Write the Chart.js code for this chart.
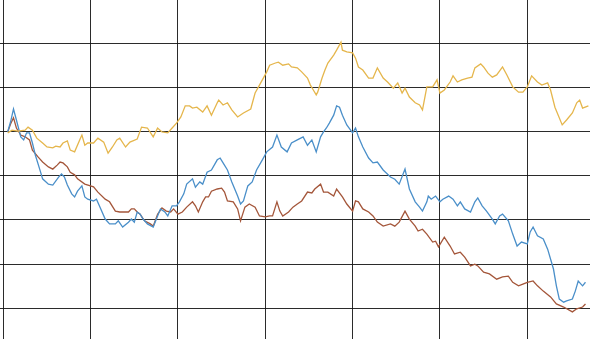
<!DOCTYPE html>
<html>
<head>
<meta charset="utf-8">
<script src="https://cdn.jsdelivr.net/npm/chart.js@4.4.0/dist/chart.umd.min.js"></script>
<style>
  html, body { margin: 0; padding: 0; background: #fff; }
  canvas { display: block; }
</style>
</head>
<body>
<canvas id="ctx_chart" width="590" height="339"></canvas>
<script>
// grid ticks (no labels shown in the picture)
const xTicks = [0, 60, 120, 180, 240, 300, 360]
const yTicks = [60, 70, 80, 90, 100, 110, 120]

// gold series
const goldDays = [3,6,10,15,17,20,23,27,30,34,36,39,41,44,46,49,53,54,56,58,62,65,69,72,75,78,80,84,87,92,95,99,103,106,109,113,116,119,122,125,128,130,133,137,140,143,147,148,151,154,157,161,165,170,173,176,181,183,187,189,192,196,198,202,205,209,211,213,215,216,219,221,223,227,229,232,233,236,240,242,244,247,251,254,257,261,264,268,271,274,276,279,283,286,288,291,295,298,300,303,307,309,312,315,319,322,324,328,330,333,336,339,343,346,350,354,357,360,363,367,370,374,376,379,384,387,391,394,396,398,402]
const goldValues = [99.7,100.3,100.1,100.3,101.0,100.3,98.5,97.4,96.5,96.3,96.7,96.5,97.4,97.9,95.8,95.4,98.5,99.2,96.9,97.4,97.4,98.5,97.6,95.1,96.5,98.1,98.5,96.5,97.6,98.3,101.0,100.8,98.8,100.8,99.9,99.7,100.8,101.9,103.3,105.8,105.8,105.3,105.5,104.4,105.8,103.7,106.5,107.1,106.0,106.5,104.9,103.3,104.2,105.1,108.7,110.5,113.5,115.0,115.5,115.7,115.0,115.3,114.6,114.4,113.5,112.1,110.5,109.4,108.3,108.9,112.1,113.9,115.5,117.3,118.4,120.2,118.4,118.0,117.8,116.6,114.6,113.9,112.1,112.1,114.4,112.1,111.2,109.8,111.0,108.7,109.8,107.8,106.5,106.0,104.9,110.1,110.1,111.7,108.7,109.4,111.2,112.6,111.2,111.7,112.1,112.3,114.4,115.3,114.6,113.2,112.3,112.8,114.6,112.8,110.1,108.9,108.9,110.1,112.6,111.2,110.5,111.0,109.4,105.5,101.5,102.6,104.2,106.5,107.1,105.3,105.8]

// blue series
const blueDays = [3,5,7,9,12,14,16,18,20,22,25,27,31,34,38,40,42,44,47,49,51,54,56,58,62,64,66,70,73,77,79,82,86,88,90,92,94,96,99,103,106,108,111,113,116,119,121,124,126,130,132,135,137,140,143,147,149,151,154,157,161,163,165,168,171,174,178,181,185,188,191,195,198,202,206,209,212,215,218,220,222,224,227,229,231,233,236,240,242,244,247,251,254,257,261,266,269,272,276,279,283,286,288,291,292,294,297,300,302,306,309,312,314,317,321,324,326,329,332,336,338,341,343,347,350,353,356,360,362,364,367,371,374,378,380,382,385,387,391,393,395,398,400]
const blueValues = [99.9,102.2,105.1,102.6,98.8,98.1,99.7,99.7,97.4,94.7,91.5,89.3,88.1,87.9,89.7,90.4,89.7,87.9,85.9,85.2,86.5,87.7,85.2,84.7,84.3,84.7,83.2,80.2,79.1,79.1,79.8,78.4,79.5,80.2,79.5,81.8,81.3,80.2,79.1,78.4,80.9,82.5,81.8,80.9,83.2,83.2,84.1,85.9,88.1,89.3,87.4,88.6,88.1,90.8,91.3,93.6,94.0,92.9,91.3,88.6,85.4,83.6,84.3,87.7,88.6,91.3,93.6,95.4,96.5,99.2,96.5,95.4,97.4,98.1,98.8,96.9,98.1,95.4,98.8,99.9,100.8,101.9,103.7,105.8,105.5,103.7,101.5,99.7,100.8,98.8,96.5,94.0,92.9,93.1,91.3,89.7,89.2,88.1,91.5,87.0,84.1,82.9,82.0,84.1,85.4,84.7,85.4,84.1,84.7,85.4,84.7,83.2,84.1,82.5,81.8,84.1,85.0,83.2,82.0,80.2,79.1,80.9,81.3,79.8,76.8,74.1,75.0,74.6,77.3,78.4,76.4,75.7,73.4,68.9,65.1,62.1,61.4,61.7,62.1,63.9,66.2,65.1,65.9]

// brown series
const brownDays = [3,5,7,9,12,15,18,20,24,27,31,34,37,39,41,44,46,49,51,56,62,65,70,73,77,80,84,86,88,90,92,94,97,101,103,106,109,112,115,117,120,123,126,130,132,134,137,139,141,143,147,150,152,154,158,161,163,166,169,173,176,180,183,185,188,190,192,196,199,202,205,209,212,214,218,220,223,227,229,233,236,240,242,244,247,251,254,257,261,266,269,272,276,279,283,285,288,291,295,297,299,303,307,310,314,317,321,324,326,330,334,339,343,347,350,354,357,360,364,367,371,376,380,385,391,394,398,400]
const brownValues = [99.9,101.7,103.1,100.8,99.2,98.8,98.1,95.8,94.2,93.1,92.0,91.5,92.4,93.1,92.9,92.0,90.8,90.2,89.3,88.1,87.5,86.3,84.7,84.1,82.0,81.8,81.8,81.8,82.5,82.5,81.8,81.3,79.8,79.1,78.6,81.3,82.7,82.0,81.8,82.5,81.3,81.8,82.9,84.1,83.2,81.8,84.1,85.2,85.2,86.5,87.0,87.2,86.3,84.3,84.1,82.5,79.8,82.9,83.6,82.9,80.9,80.7,80.9,80.9,84.1,82.0,80.9,81.8,82.9,83.6,84.3,86.3,86.1,87.0,88.1,86.3,86.3,85.4,87.0,85.2,83.6,82.0,84.3,84.1,82.5,81.8,80.9,79.5,78.6,79.1,78.6,79.5,82.0,80.2,78.6,77.5,77.9,76.8,75.0,75.2,73.9,76.1,74.1,72.3,72.7,71.6,69.6,70.0,69.6,68.2,67.8,66.6,67.1,67.3,65.9,65.1,65.5,65.9,66.2,65.1,63.9,62.6,61.0,60.3,59.2,59.9,60.3,61.0]

const toPoints = (days, values) => days.map((d, i) => ({ x: d, y: values[i] }))

const serie = (days, values, color) => ({
    data: toPoints(days, values),
    borderColor: color,
    borderWidth: 1.3,
    pointRadius: 0,
    tension: 0,
    fill: false
})

const gridScale = (min, max, ticks) => ({
    type: 'linear',
    min: min,
    max: max,
    afterBuildTicks: s => { s.ticks = ticks.map(v => ({ value: v })) },
    ticks: { display: false },
    grid: { color: 'rgba(20,20,20,0.9)', lineWidth: 1, drawTicks: false },
    border: { display: false }
})

new Chart(document.getElementById('ctx_chart').getContext('2d'), {
    type: 'line',
    data: {
        datasets: [
            serie(goldDays, goldValues, '#E5B64C'),
            serie(blueDays, blueValues, '#4A8FC9'),
            serie(brownDays, brownValues, '#A4563A')
        ]
    },
    options: {
        responsive: false,
        animation: false,
        devicePixelRatio: 1,
        layout: { padding: 0 },
        plugins: {
            legend: { display: false },
            tooltip: { enabled: false }
        },
        scales: {
            x: gridScale(-2.27, 403.1, xTicks),
            y: gridScale(53.07, 129.75, yTicks)
        }
    }
})
</script>
</body>
</html>
